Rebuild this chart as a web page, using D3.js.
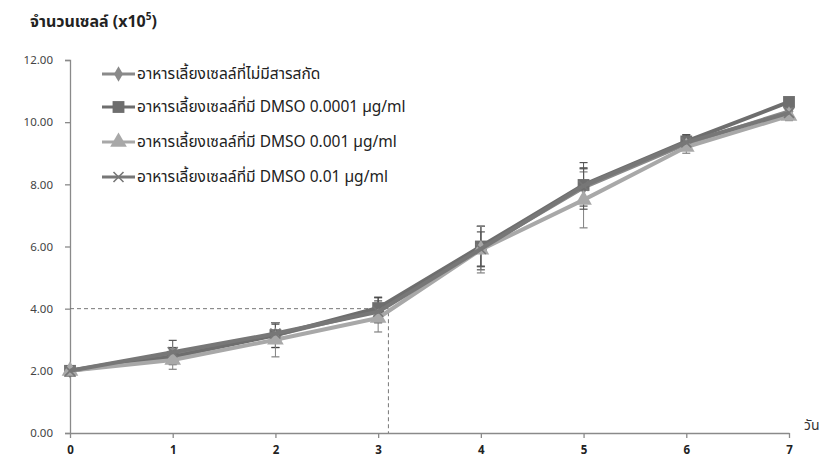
<!DOCTYPE html>
<html>
<head>
<meta charset="utf-8">
<script src="https://cdn.jsdelivr.net/npm/d3@7"></script>
<style>
  html, body { margin: 0; padding: 0; background: #fff; }
  svg { display: block; }
  text { font-family: Tahoma, "Noto Sans Thai", "Noto Sans", "DejaVu Sans", sans-serif; }
</style>
</head>
<body>
<svg id="chart" width="825" height="466"></svg>
<script>
// Days of culture
const days = [0, 1, 2, 3, 4, 5, 6, 7];

// Cell counts (x10^5) per medium, with standard deviations
const controlValues = [2.0, 2.55, 3.15, 3.95, 5.95, 7.9, 9.3, 10.35];
const controlErr    = [0, 0.2, 0.4, 0.4, 0.7, 0.6, 0.2, 0.1];
const dmso0001Values = [2.0, 2.45, 3.15, 4.02, 6.0, 7.98, 9.38, 10.65];
const dmso0001Err    = [0, 0.25, 0.4, 0.35, 0.65, 0.55, 0.2, 0.1];
const dmso001Values = [2.0, 2.35, 3.0, 3.7, 5.9, 7.5, 9.2, 10.2];
const dmso001Err    = [0, 0.3, 0.55, 0.45, 0.75, 0.9, 0.2, 0.15];
const dmso01Values  = [2.0, 2.6, 3.2, 3.9, 5.92, 7.95, 9.35, 10.3];
const dmso01Err     = [0, 0.38, 0.3, 0.35, 0.55, 0.75, 0.25, 0.1];

const seriesNames = [
  "อาหารเลี้ยงเซลล์ที่ไม่มีสารสกัด",
  "อาหารเลี้ยงเซลล์ที่มี DMSO 0.0001 µg/ml",
  "อาหารเลี้ยงเซลล์ที่มี DMSO 0.001 µg/ml",
  "อาหารเลี้ยงเซลล์ที่มี DMSO 0.01 µg/ml"
];
const yTicks = [0, 2, 4, 6, 8, 10, 12];

// Reference guide: 4.00 x10^5 cells reached at about day 3.1
const guideY = 4.0;
const guideX = 3.1;

const series = [
  { name: seriesNames[0], values: controlValues, err: controlErr, color: "#8a8a8a", errColor: "#555", symbol: "diamond" },
  { name: seriesNames[1], values: dmso0001Values, err: dmso0001Err, color: "#6e6e6e", errColor: "#444", symbol: "square" },
  { name: seriesNames[2], values: dmso001Values, err: dmso001Err, color: "#a8a8a8", errColor: "#808080", symbol: "triangle" },
  { name: seriesNames[3], values: dmso01Values, err: dmso01Err, color: "#777777", errColor: "#555", symbol: "cross" }
];

const svg = d3.select("#chart");
const x = d3.scaleLinear().domain([0, 7]).range([70, 789]);
const y = d3.scaleLinear().domain([0, 12]).range([433, 60]);

// Y axis
const yAxis = svg.append("g").attr("transform", "translate(70,0)")
  .call(d3.axisLeft(y).tickValues(yTicks).tickFormat(d3.format(".2f")).tickSize(5).tickPadding(12));
yAxis.selectAll("path, line").attr("stroke", "#8a8a8a").attr("stroke-width", 1.3);
yAxis.selectAll("text").attr("font-size", 11.5).attr("fill", "#444");

// X axis
const xAxis = svg.append("g").attr("transform", "translate(0,433)")
  .call(d3.axisBottom(x).tickValues(days).tickFormat(d3.format("d")).tickSize(5).tickSizeOuter(0).tickPadding(8));
xAxis.selectAll("path, line").attr("stroke", "#8a8a8a").attr("stroke-width", 1.3);
xAxis.selectAll("text").attr("font-size", 11.5).attr("font-weight", "bold").attr("fill", "#222");

// Axis titles
const yTitle = svg.append("text").attr("x", 30).attr("y", 27).attr("font-size", 16).attr("font-weight", "bold").attr("fill", "#222");
yTitle.append("tspan").text("จำนวนเซลล์ (x10");
yTitle.append("tspan").attr("dy", -7).attr("font-size", 10).text("5");
yTitle.append("tspan").attr("dy", 7).text(")");
svg.append("text").attr("x", 804).attr("y", 430).attr("font-size", 14).attr("fill", "#333").text("วัน");

// Dashed guide lines
svg.append("path")
  .attr("d", `M${x(0)},${y(guideY)}H${x(guideX)}V${y(0)}`)
  .attr("fill", "none").attr("stroke", "#777").attr("stroke-width", 1).attr("stroke-dasharray", "4,3");

const line = d3.line().x((d, i) => x(days[i])).y(d => y(d));

function drawSymbol(g, type, cx, cy, color) {
  if (type === "cross") {
    const s = 5;
    g.append("path").attr("d", `M${cx - s},${cy - s}L${cx + s},${cy + s}M${cx - s},${cy + s}L${cx + s},${cy - s}`)
      .attr("stroke", color).attr("stroke-width", 1.6).attr("fill", "none");
    return;
  }
  const sym = { diamond: d3.symbolDiamond, square: d3.symbolSquare, triangle: d3.symbolTriangle }[type];
  const size = { diamond: 70, square: 140, triangle: 120 }[type];
  g.append("path").attr("d", d3.symbol().type(sym).size(size)())
    .attr("transform", `translate(${cx},${cy})`).attr("fill", color);
}

// Error bars
series.forEach(s => {
  const g = svg.append("g");
  s.values.forEach((v, i) => {
    const e = s.err[i];
    if (!e) return;
    const cx = x(days[i]);
    g.append("line").attr("x1", cx).attr("x2", cx).attr("y1", y(v + e)).attr("y2", y(v - e))
      .attr("stroke", s.errColor).attr("stroke-width", 1);
    [v + e, v - e].forEach(t => g.append("line").attr("x1", cx - 4).attr("x2", cx + 4).attr("y1", y(t)).attr("y2", y(t))
      .attr("stroke", s.errColor).attr("stroke-width", 1.2));
  });
});

// Lines and markers
series.forEach(s => {
  const g = svg.append("g");
  g.append("path").datum(s.values).attr("d", line).attr("fill", "none")
    .attr("stroke", s.color).attr("stroke-width", 4).attr("stroke-linejoin", "round");
  s.values.forEach((v, i) => drawSymbol(g, s.symbol, x(days[i]), y(v), s.color));
});

// Legend
const legendY = [74, 107, 142, 177];
series.forEach((s, i) => {
  const g = svg.append("g");
  const ly = legendY[i];
  g.append("line").attr("x1", 102).attr("x2", 135).attr("y1", ly).attr("y2", ly)
    .attr("stroke", s.color).attr("stroke-width", 3);
  drawSymbol(g, s.symbol, 118.5, ly, s.color);
  g.append("text").attr("x", 137).attr("y", ly + 5).attr("font-size", 15.5).attr("fill", "#222").text(s.name);
});
</script>
</body>
</html>
